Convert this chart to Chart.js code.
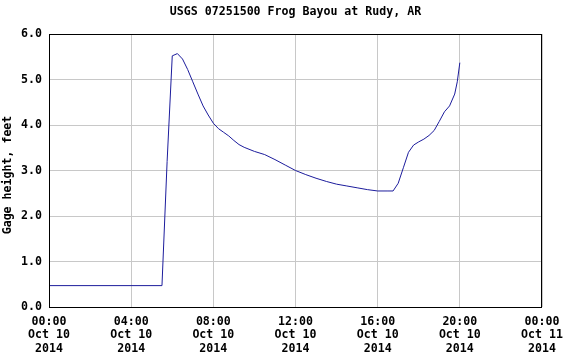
<!DOCTYPE html>
<html>
<head>
<meta charset="utf-8">
<script src="https://cdn.jsdelivr.net/npm/chart.js@4.4.0/dist/chart.umd.min.js"></script>
<style>
  html, body { margin: 0; padding: 0; background: #fff; }
  #wrap { width: 567px; height: 360px; }
</style>
</head>
<body>
<div id="wrap"><canvas id="myChart" width="567" height="360"></canvas></div>
<script>
// hours since 00:00 Oct 10 2014
const hours = [0, 5.5, 5.75, 6.0, 6.25, 6.5, 6.75, 7.0, 7.25, 7.5, 7.75, 8.0, 8.25, 8.5, 8.75, 9.0, 9.25, 9.5,
  10.0, 10.5, 11.0, 11.5, 12.0, 12.5, 13.0, 13.5, 14.0, 14.5, 15.0, 15.5, 16.0, 16.5, 16.75,
  17.0, 17.25, 17.5, 17.75, 18.0, 18.25, 18.5, 18.75, 19.0, 19.25, 19.5, 19.75, 19.875, 20.0];
const gageHeight = [0.47, 0.47, 3.2, 5.52, 5.57, 5.45, 5.22, 4.95, 4.68, 4.42, 4.22, 4.04, 3.92, 3.84, 3.76, 3.66, 3.57, 3.51,
  3.42, 3.35, 3.24, 3.12, 3.0, 2.91, 2.83, 2.76, 2.70, 2.66, 2.62, 2.58, 2.55, 2.55, 2.55,
  2.72, 3.06, 3.40, 3.56, 3.63, 3.69, 3.77, 3.88, 4.08, 4.29, 4.42, 4.68, 4.95, 5.37];
const tickHours = [0, 4, 8, 12, 16, 20, 24];
const tickLabels = [
  ["00:00", "Oct 10", "2014"],
  ["04:00", "Oct 10", "2014"],
  ["08:00", "Oct 10", "2014"],
  ["12:00", "Oct 10", "2014"],
  ["16:00", "Oct 10", "2014"],
  ["20:00", "Oct 10", "2014"],
  ["00:00", "Oct 11", "2014"]
];
const yTicks = [0, 1, 2, 3, 4, 5, 6];
const yTitle = "Gage height, feet";

const font = { family: "'DejaVu Sans Mono', monospace", size: 11.6, weight: "bold", lineHeight: 1.16 };

// black box round the plot, and the y axis title
const frame = {
  id: "frame",
  afterDraw(chart) {
    const a = chart.chartArea;
    const ctx = chart.ctx;
    ctx.save();
    ctx.strokeStyle = "#000";
    ctx.lineWidth = 1;
    const l = Math.round(a.left), t = Math.round(a.top);
    const r = Math.round(a.right) - 1, b = Math.round(a.bottom);
    ctx.strokeRect(l + 0.5, t + 0.5, r - l, b - t);
    ctx.translate(8, 175);
    ctx.rotate(-Math.PI / 2);
    ctx.fillStyle = "#000";
    ctx.font = "bold 11.6px 'DejaVu Sans Mono', monospace";
    ctx.textAlign = "center";
    ctx.textBaseline = "middle";
    ctx.fillText(yTitle, 0, 0);
    ctx.restore();
  }
};

const data = {
  datasets: [{
    data: hours.map((h, i) => ({ x: h, y: gageHeight[i] })),
    borderColor: "#1c1c9c",
    borderWidth: 1,
    pointRadius: 0,
    tension: 0,
    fill: false
  }]
};

const config = {
  type: "line",
  data: data,
  options: {
    responsive: false,
    animation: false,
    layout: { padding: { left: 0, right: 25, top: 0, bottom: 0 } },
    scales: {
      x: {
        type: "linear",
        min: 0,
        max: 24,
        afterBuildTicks: (s) => { s.ticks = tickHours.map(v => ({ value: v })); },
        afterFit: (s) => { s.height = 53; s.paddingLeft = 0; s.paddingRight = 0; },
        grid: { color: "#c8c8c8", drawTicks: false },
        border: { display: false },
        ticks: {
          color: "#000",
          font: font,
          padding: 8,
          maxRotation: 0,
          autoSkip: false,
          callback: (v) => tickLabels[tickHours.indexOf(v)]
        }
      },
      y: {
        min: 0,
        max: 6,
        afterBuildTicks: (s) => { s.ticks = yTicks.map(v => ({ value: v })); },
        afterFit: (s) => { s.width = 49; s.paddingTop = 0; s.paddingBottom = 0; },
        grid: { color: "#c8c8c8", drawTicks: false },
        border: { display: false },
        ticks: {
          color: "#000",
          font: font,
          padding: 7,
          callback: (v) => v.toFixed(1)
        }
      }
    },
    plugins: {
      legend: { display: false },
      tooltip: { enabled: false },
      title: {
        display: true,
        fullSize: false,
        text: "USGS 07251500 Frog Bayou at Rudy, AR",
        color: "#000",
        font: { family: font.family, size: 11.6, weight: "bold", lineHeight: 1.2 },
        padding: { top: 5.5, bottom: 14.6 }
      }
    }
  },
  plugins: [frame]
};

let myChart = new Chart(document.getElementById("myChart"), config);
</script>
</body>
</html>
